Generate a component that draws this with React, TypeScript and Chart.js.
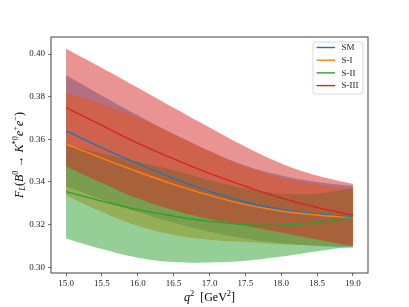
import React, { useEffect, useRef } from "react";
import { Chart, registerables } from "chart.js";

Chart.register(...registerables);

// q^2 grid (GeV^2)
const q2 = [15.0, 15.5, 16.0, 16.5, 17.0, 17.5, 18.0, 18.5, 19.0];

// SM
const smCentral = [0.364, 0.3561, 0.3486, 0.3417, 0.3356, 0.3306, 0.3271, 0.325, 0.3236];
const smUpper = [0.39, 0.3805, 0.3713, 0.3625, 0.3545, 0.3477, 0.343, 0.34, 0.3381];
const smLower = [0.338, 0.3317, 0.3259, 0.3209, 0.3167, 0.3135, 0.3112, 0.31, 0.3091];

// S-I
const s1Central = [0.3578, 0.3512, 0.3448, 0.3389, 0.3337, 0.3294, 0.3264, 0.3245, 0.3232];
const s1Upper = [0.382, 0.3765, 0.3702, 0.3625, 0.3545, 0.347, 0.342, 0.3388, 0.3364];
const s1Lower = [0.3336, 0.3259, 0.3194, 0.3153, 0.3129, 0.3118, 0.3108, 0.3102, 0.31];

// S-II
const s2Central = [0.3355, 0.331, 0.327, 0.324, 0.3215, 0.32, 0.3198, 0.321, 0.3235];
const s2Upper = [0.3575, 0.3535, 0.3495, 0.3455, 0.3408, 0.337, 0.3346, 0.3345, 0.337];
const s2Lower = [0.3135, 0.3085, 0.3045, 0.3025, 0.3022, 0.303, 0.305, 0.3075, 0.31];

// S-III
const s3Central = [0.3749, 0.3665, 0.3582, 0.3508, 0.344, 0.338, 0.3325, 0.328, 0.3244];
const s3Upper = [0.4025, 0.3935, 0.3842, 0.3748, 0.3655, 0.3565, 0.3487, 0.343, 0.339];
const s3Lower = [0.3473, 0.3395, 0.3322, 0.3268, 0.3225, 0.3195, 0.3163, 0.313, 0.3098];

const modelLabels = ["SM", "S-I", "S-II", "S-III"];
const xTicks = [15.0, 15.5, 16.0, 16.5, 17.0, 17.5, 18.0, 18.5, 19.0];
const yTicks = [0.3, 0.32, 0.34, 0.36, 0.38, 0.4];

const lineColors = ["#1f77b4", "#ff7f0e", "#2ca02c", "#d62728"];
const bandColors = [
  "rgba(31,119,180,0.5)",
  "rgba(255,127,14,0.5)",
  "rgba(44,160,44,0.5)",
  "rgba(214,39,40,0.5)",
];

const SERIF = '"Liberation Serif", "DejaVu Serif", serif';

type Seg = { t: string; it?: boolean; sc?: "sup" | "sub" };

function drawRich(
  ctx: CanvasRenderingContext2D,
  segs: Seg[],
  cx: number,
  cy: number,
  size: number,
  rot: number
) {
  ctx.save();
  ctx.translate(cx, cy);
  ctx.rotate(rot);
  const fontFor = (s: Seg) =>
    `${s.it ? "italic " : ""}${s.sc ? size * 0.7 : size}px ${SERIF}`;
  const widths = segs.map((s) => {
    ctx.font = fontFor(s);
    return ctx.measureText(s.t).width;
  });
  const total = widths.reduce((a, b) => a + b, 0);
  let x = -total / 2;
  ctx.fillStyle = "#000";
  ctx.textBaseline = "alphabetic";
  ctx.textAlign = "left";
  segs.forEach((s, i) => {
    ctx.font = fontFor(s);
    const dy = s.sc === "sup" ? -size * 0.38 : s.sc === "sub" ? size * 0.2 : 0;
    ctx.fillText(s.t, x, size * 0.33 + dy);
    x += widths[i];
  });
  ctx.restore();
}

const yTitle: Seg[] = [
  { t: "F", it: true },
  { t: "L", it: true, sc: "sub" },
  { t: "(" },
  { t: "B", it: true },
  { t: "0", sc: "sup" },
  { t: " \u2192 " },
  { t: "K", it: true },
  { t: "*0", sc: "sup" },
  { t: "e", it: true },
  { t: "+", sc: "sup" },
  { t: "e", it: true },
  { t: "\u2212", sc: "sup" },
  { t: ")" },
];

const xTitle: Seg[] = [
  { t: "q", it: true },
  { t: "2", sc: "sup" },
  { t: "  [GeV" },
  { t: "2", sc: "sup" },
  { t: "]" },
];

const decorPlugin = {
  id: "decor",
  afterDraw(chart: any) {
    const ctx: CanvasRenderingContext2D = chart.ctx;
    const a = chart.chartArea;
    // frame (all four spines)
    ctx.save();
    ctx.strokeStyle = "#000";
    ctx.globalAlpha = 0.75;
    ctx.lineWidth = 1;
    ctx.strokeRect(a.left, a.top, a.right - a.left, a.bottom - a.top);
    ctx.restore();

    // axis titles
    drawRich(ctx, yTitle, 19, (a.top + a.bottom) / 2, 12, -Math.PI / 2);
    drawRich(ctx, xTitle, (a.left + a.right) / 2, 297, 12, 0);

    // legend (upper right)
    const lines = chart.data.datasets.filter((d: any) => d.isCentral);
    const boxW = 50;
    const boxH = 52;
    const bx = a.right - 5 - boxW;
    const by = a.top + 5;
    ctx.save();
    const r = 2;
    ctx.beginPath();
    ctx.moveTo(bx + r, by);
    ctx.lineTo(bx + boxW - r, by);
    ctx.quadraticCurveTo(bx + boxW, by, bx + boxW, by + r);
    ctx.lineTo(bx + boxW, by + boxH - r);
    ctx.quadraticCurveTo(bx + boxW, by + boxH, bx + boxW - r, by + boxH);
    ctx.lineTo(bx + r, by + boxH);
    ctx.quadraticCurveTo(bx, by + boxH, bx, by + boxH - r);
    ctx.lineTo(bx, by + r);
    ctx.quadraticCurveTo(bx, by, bx + r, by);
    ctx.closePath();
    ctx.fillStyle = "rgba(255,255,255,0.8)";
    ctx.fill();
    ctx.strokeStyle = "rgba(204,204,204,0.9)";
    ctx.lineWidth = 0.8;
    ctx.stroke();
    ctx.font = `9px ${SERIF}`;
    ctx.textBaseline = "middle";
    ctx.textAlign = "left";
    lines.forEach((d: any, i: number) => {
      const yy = by + 5.5 + i * 12.7;
      ctx.strokeStyle = d.borderColor;
      ctx.lineWidth = 1.4;
      ctx.beginPath();
      ctx.moveTo(bx + 3.5, yy);
      ctx.lineTo(bx + 22, yy);
      ctx.stroke();
      ctx.fillStyle = "#222";
      ctx.fillText(d.label, bx + 28.5, yy + 0.5);
    });
    ctx.restore();
  },
};

export default function App() {
  const ref = useRef<HTMLCanvasElement>(null);

  useEffect(() => {
    const canvas = ref.current;
    if (!canvas) return;
    const centrals = [smCentral, s1Central, s2Central, s3Central];
    const uppers = [smUpper, s1Upper, s2Upper, s3Upper];
    const lowers = [smLower, s1Lower, s2Lower, s3Lower];
    const pts = (arr: number[]) => q2.map((x, j) => ({ x, y: arr[j] }));

    const datasets: any[] = [];
    modelLabels.forEach((label, i) => {
      datasets.push({
        label,
        isCentral: true,
        data: pts(centrals[i]),
        borderColor: lineColors[i],
        backgroundColor: lineColors[i],
        borderWidth: 1.4,
        pointRadius: 0,
        fill: false,
        tension: 0.4,
        order: 3 - i,
      });
    });
    modelLabels.forEach((label, i) => {
      datasets.push({
        label: label + " upper",
        data: pts(uppers[i]),
        borderColor: "transparent",
        borderWidth: 0,
        pointRadius: 0,
        backgroundColor: bandColors[i],
        fill: "+1",
        tension: 0.4,
        order: 100 - i * 2,
      });
      datasets.push({
        label: label + " lower",
        data: pts(lowers[i]),
        borderColor: "transparent",
        borderWidth: 0,
        pointRadius: 0,
        fill: false,
        tension: 0.4,
        order: 99 - i * 2,
      });
    });

    const tickFont = { family: SERIF, size: 9 };
    const chart = new Chart(canvas, {
      type: "line",
      data: { datasets },
      options: {
        animation: false,
        responsive: false,
        devicePixelRatio: 1,
        layout: { padding: { left: 0, top: 37, right: 41, bottom: 0 } },
        plugins: {
          legend: { display: false },
          tooltip: { enabled: false },
        },
        scales: {
          x: {
            type: "linear",
            min: 14.79,
            max: 19.21,
            afterFit: (s: any) => {
              s.height = 34;
            },
            afterBuildTicks: (s: any) => {
              s.ticks = xTicks.map((v) => ({ value: v }));
            },
            ticks: {
              callback: (v: any) => Number(v).toFixed(1),
              font: tickFont,
              color: "#222",
              padding: 2,
              maxRotation: 0,
              autoSkip: false,
            },
            grid: {
              drawOnChartArea: false,
              drawTicks: true,
              tickLength: 3,
              color: "#555",
              lineWidth: 0.8,
            },
            border: { display: false },
          },
          y: {
            type: "linear",
            min: 0.2973,
            max: 0.408,
            afterFit: (s: any) => {
              s.width = 51;
            },
            afterBuildTicks: (s: any) => {
              s.ticks = yTicks.map((v) => ({ value: v }));
            },
            ticks: {
              callback: (v: any) => Number(v).toFixed(2),
              font: tickFont,
              color: "#222",
              padding: 3,
              autoSkip: false,
            },
            grid: {
              drawOnChartArea: false,
              drawTicks: true,
              tickLength: 3,
              color: "#555",
              lineWidth: 0.8,
            },
            border: { display: false },
          },
        },
      },
      plugins: [decorPlugin],
    } as any);
    return () => chart.destroy();
  }, []);

  return (
    <div
      style={{
        position: "fixed",
        left: 0,
        top: 0,
        width: 409,
        height: 307,
        background: "#fff",
      }}
    >
      <canvas ref={ref} width={409} height={307} style={{ display: "block" }} />
    </div>
  );
}
